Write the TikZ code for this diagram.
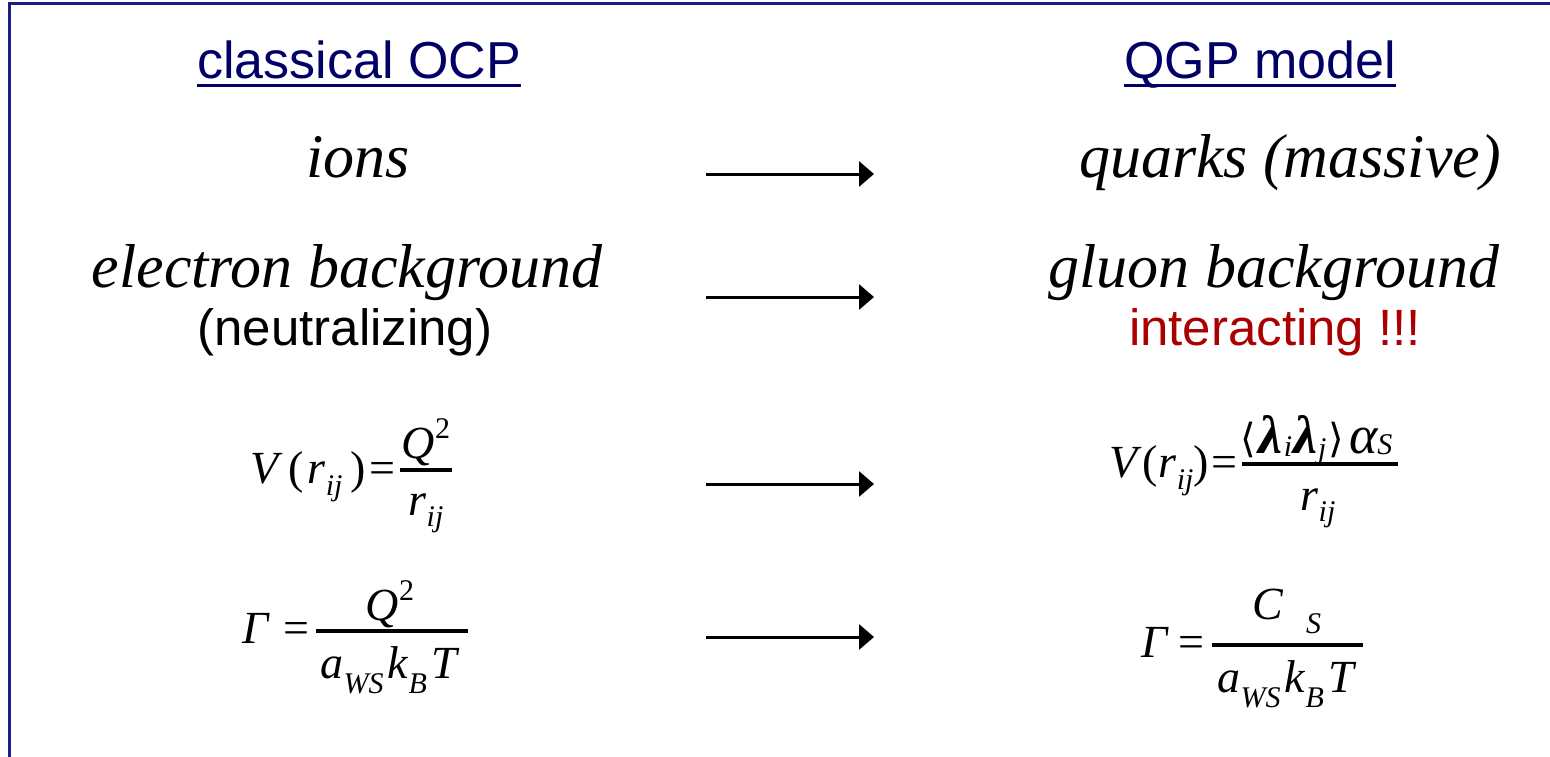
\documentclass[tikz,border=0pt]{standalone}
\usepackage{fontspec}
\setmainfont{Liberation Serif}
\newfontfamily\arialf{Liberation Sans}
\newfontfamily\djv{DejaVu Sans}
\usetikzlibrary{arrows.meta}
\definecolor{navy}{RGB}{0,0,102}
\definecolor{framecol}{RGB}{28,28,130}
\definecolor{redtxt}{RGB}{170,0,0}
\newcommand\sbs[2][12pt]{\raisebox{-#1}{\fontsize{30}{30}\selectfont\itshape #2}}
\newcommand\sps[1]{\raisebox{20pt}{\fontsize{30}{30}\selectfont #1}}
\newcommand\lam{{\fontsize{54}{54}\selectfont\bfseries\itshape λ}}
\newcommand\alp{{\fontsize{54}{54}\selectfont\itshape α}}
\newcommand\angl[1]{{\djv\fontsize{40}{40}\selectfont\raisebox{1pt}{\char"#1}}}
\begin{document}
\begin{tikzpicture}[x=1pt,y=-1pt,
  title/.style={font=\arialf\fontsize{52}{52}\selectfont, text=navy, inner sep=0, anchor=base},
  big/.style={font=\fontsize{62}{62}\selectfont\itshape, inner sep=0, anchor=base},
  note/.style={font=\arialf\fontsize{51}{51}\selectfont, inner sep=0, anchor=base},
  eq/.style={font=\fontsize{46}{46}\selectfont, inner sep=0, anchor=base},
  eqleft/.style={eq, anchor=base east},
  bar/.style={line width=3.5pt},
  uline/.style={navy, line width=3pt},
  arr/.style={line width=3pt, -{Triangle[length=15pt,width=25pt]}},
  frame/.style={framecol, line width=3pt}]
\useasboundingbox (0,0) rectangle (1550,757);
\fill[white] (0,0) rectangle (1550,757);
% frame
\coordinate (fr1) at (1550,4);
\coordinate (fr2) at (9,4);
\coordinate (fr3) at (9,757);
\draw[frame] (fr1) -- (fr2) -- (fr3);
% titles
\node[title] (t1) at (359,79) {classical OCP};
\node[title] (t2) at (1260,79) {QGP model};
\draw[uline] ([yshift=-7pt]t1.base west) -- ([yshift=-7pt]t1.base east);
\draw[uline] ([yshift=-7pt]t2.base west) -- ([yshift=-7pt]t2.base east);
% rows
\node[big] (ions) at (358,178) {ions};
\node[big] (quarks) at (1290,178) {quarks (massive)};
\node[big] (elec) at (347,287) {electron background};
\node[big] (gluon) at (1274,287) {gluon background};
\node[note] (neut) at (345,345) {(neutralizing)};
\node[note, text=redtxt] (inter) at (1275,345) {interacting !!!};
% arrows
\coordinate (a1s) at (706,174); \coordinate (a1e) at (874,174);
\coordinate (a2s) at (706,297); \coordinate (a2e) at (874,297);
\coordinate (a3s) at (706,484); \coordinate (a3e) at (874,484);
\coordinate (a4s) at (706,637); \coordinate (a4e) at (874,637);
\draw[arr] (a1s) -- (a1e);
\draw[arr] (a2s) -- (a2e);
\draw[arr] (a3s) -- (a3e);
\draw[arr] (a4s) -- (a4e);
% equation 1 left
\node[eqleft] (v1l) at (396,483) {\textit{V}\kern5pt(\kern4pt\textit{r}\sbs{ij}\kern8pt)\kern4pt=};
\coordinate (b1ls) at (400,470); \coordinate (b1le) at (452,470);
\draw[bar] (b1ls) -- (b1le);
\node[eq] (n1l) at (426,458) {\textit{Q}\sps{2}};
\node[eq] (d1l) at (426,515) {\textit{r}\sbs[11pt]{ij}};
% equation 1 right
\node[eqleft] (v1r) at (1238,477) {\textit{V}\kern1pt(\kern1pt\textit{r}\sbs{ij})\kern3pt=};
\coordinate (b1rs) at (1242,464); \coordinate (b1re) at (1398,464);
\draw[bar] (b1rs) -- (b1re);
\node[eq, anchor=base west] (n1r) at (1240,453) {\angl{27E8}\kern3pt\lam\kern1pt\sbs[3pt]{i}\kern1pt\lam\kern1pt\sbs[5pt]{j}\kern2pt\angl{27E9}\kern5pt\alp\sbs[1pt]{S}};
\node[eq] (d1r) at (1318,510) {\textit{r}\sbs[11pt]{ij}};
% equation 2 left
\node[eqleft] (g2l) at (310,643) {\textit{Γ}\kern14pt=};
\coordinate (b2ls) at (316,631); \coordinate (b2le) at (468,631);
\draw[bar] (b2ls) -- (b2le);
\node[eq] (n2l) at (390,620) {\textit{Q}\sps{2}};
\node[eq] (d2l) at (390,678) {\textit{a}\sbs[15pt]{WS}\kern4pt\textit{k}\sbs[15pt]{B}\kern4pt\textit{T}};
% equation 2 right
\node[eqleft] (g2r) at (1205,657) {\textit{Γ}\kern10pt=};
\coordinate (b2rs) at (1212,645); \coordinate (b2re) at (1363,645);
\draw[bar] (b2rs) -- (b2re);
\node[eq] (n2r) at (1287,619) {\textit{C}\kern22pt\raisebox{-14pt}{\fontsize{30}{30}\selectfont\itshape S}};
\node[eq] (d2r) at (1287,692) {\textit{a}\sbs[15pt]{WS}\kern4pt\textit{k}\sbs[15pt]{B}\kern4pt\textit{T}};
\end{tikzpicture}
\end{document}
